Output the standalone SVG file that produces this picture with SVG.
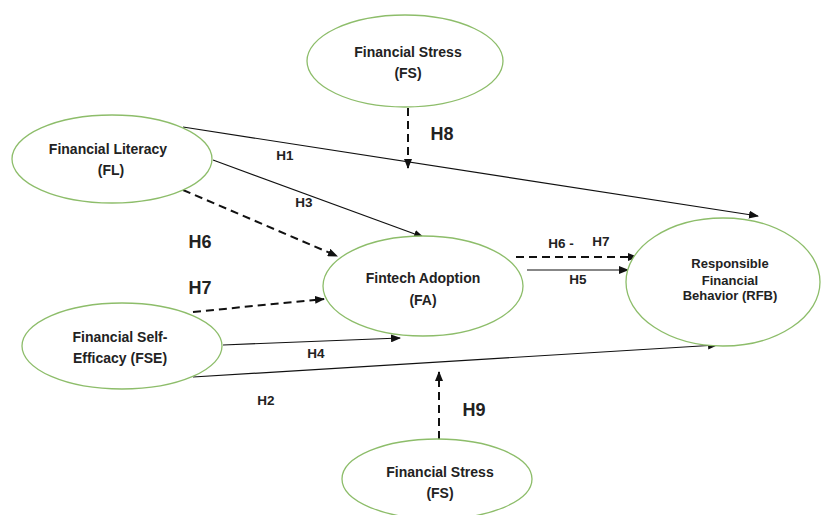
<svg xmlns="http://www.w3.org/2000/svg" width="821" height="515" viewBox="0 0 821 515">
<defs>
<style>
.node{fill:#fff;stroke:#8dbd6a;stroke-width:1.3}
.t{font-family:"Liberation Sans",Arial,sans-serif;font-weight:bold;fill:#222;text-anchor:middle}
.nt{font-size:14px}
.rt{font-size:13px}
.hs{font-size:13.5px}
.hl{font-size:18px}
.solid{stroke:#111;stroke-width:1.2;fill:none;marker-end:url(#ah)}
.dash{stroke:#111;stroke-width:2;stroke-dasharray:8 5;fill:none;marker-end:url(#ah)}
</style>
<marker id="ah" markerUnits="userSpaceOnUse" markerWidth="10" markerHeight="8" refX="9" refY="4" orient="auto">
<path d="M0,0 L10,4 L0,8 z" fill="#111"/>
</marker>
</defs>
<rect width="821" height="515" fill="#fff"/>
<g id="connectors">
<line class="solid" x1="183" y1="127" x2="758" y2="216"/>
<line class="solid" x1="213" y1="160" x2="423" y2="237"/>
<line class="dash" x1="183" y1="190" x2="337" y2="256"/>
<line class="dash" x1="193" y1="312" x2="324" y2="299"/>
<line class="solid" x1="223" y1="345" x2="400" y2="338"/>
<line class="solid" x1="193" y1="377" x2="717" y2="345"/>
<line class="dash" x1="516" y1="257" x2="637" y2="257"/>
<line class="solid" x1="527" y1="270" x2="628" y2="270"/>
<line class="dash" x1="408" y1="108" x2="408" y2="168"/>
<line class="dash" x1="439" y1="439" x2="439" y2="372"/>
<text class="t hs" x="285" y="160">H1</text>
<text class="t hs" x="304" y="207">H3</text>
<text class="t hl" x="200" y="248">H6</text>
<text class="t hl" x="200" y="294">H7</text>
<text class="t hs" x="316" y="358">H4</text>
<text class="t hs" x="266" y="405">H2</text>
<text class="t hs" x="561" y="248">H6 -</text>
<text class="t hs" x="601" y="246">H7</text>
<text class="t hs" x="578" y="284">H5</text>
<text class="t hl" x="442" y="140">H8</text>
<text class="t hl" x="474" y="416">H9</text>
</g>
<g id="FS_top">
<ellipse class="node" cx="405" cy="61" rx="98" ry="46"/>
<text class="t nt" x="408" y="57">Financial Stress</text>
<text class="t nt" x="408" y="78">(FS)</text>
</g>
<g id="FL">
<ellipse class="node" cx="112" cy="159" rx="100" ry="44"/>
<text class="t nt" x="108" y="154">Financial Literacy</text>
<text class="t nt" x="111" y="175">(FL)</text>
</g>
<g id="FA">
<ellipse class="node" cx="423" cy="286" rx="100" ry="50"/>
<text class="t nt" x="423" y="283">Fintech Adoption</text>
<text class="t nt" x="423" y="305">(FA)</text>
</g>
<g id="RFB">
<ellipse class="node" cx="723" cy="282" rx="97" ry="64"/>
<text class="t rt" x="730" y="268">Responsible</text>
<text class="t rt" x="730" y="285">Financial</text>
<text class="t rt" x="730" y="300">Behavior (RFB)</text>
</g>
<g id="FSE">
<ellipse class="node" cx="122" cy="346" rx="100" ry="43"/>
<text class="t nt" x="120" y="342">Financial Self-</text>
<text class="t nt" x="120" y="363">Efficacy (FSE)</text>
</g>
<g id="FS_bottom">
<ellipse class="node" cx="437" cy="479" rx="95" ry="40"/>
<text class="t nt" x="440" y="477">Financial Stress</text>
<text class="t nt" x="440" y="498">(FS)</text>
</g>
</svg>
